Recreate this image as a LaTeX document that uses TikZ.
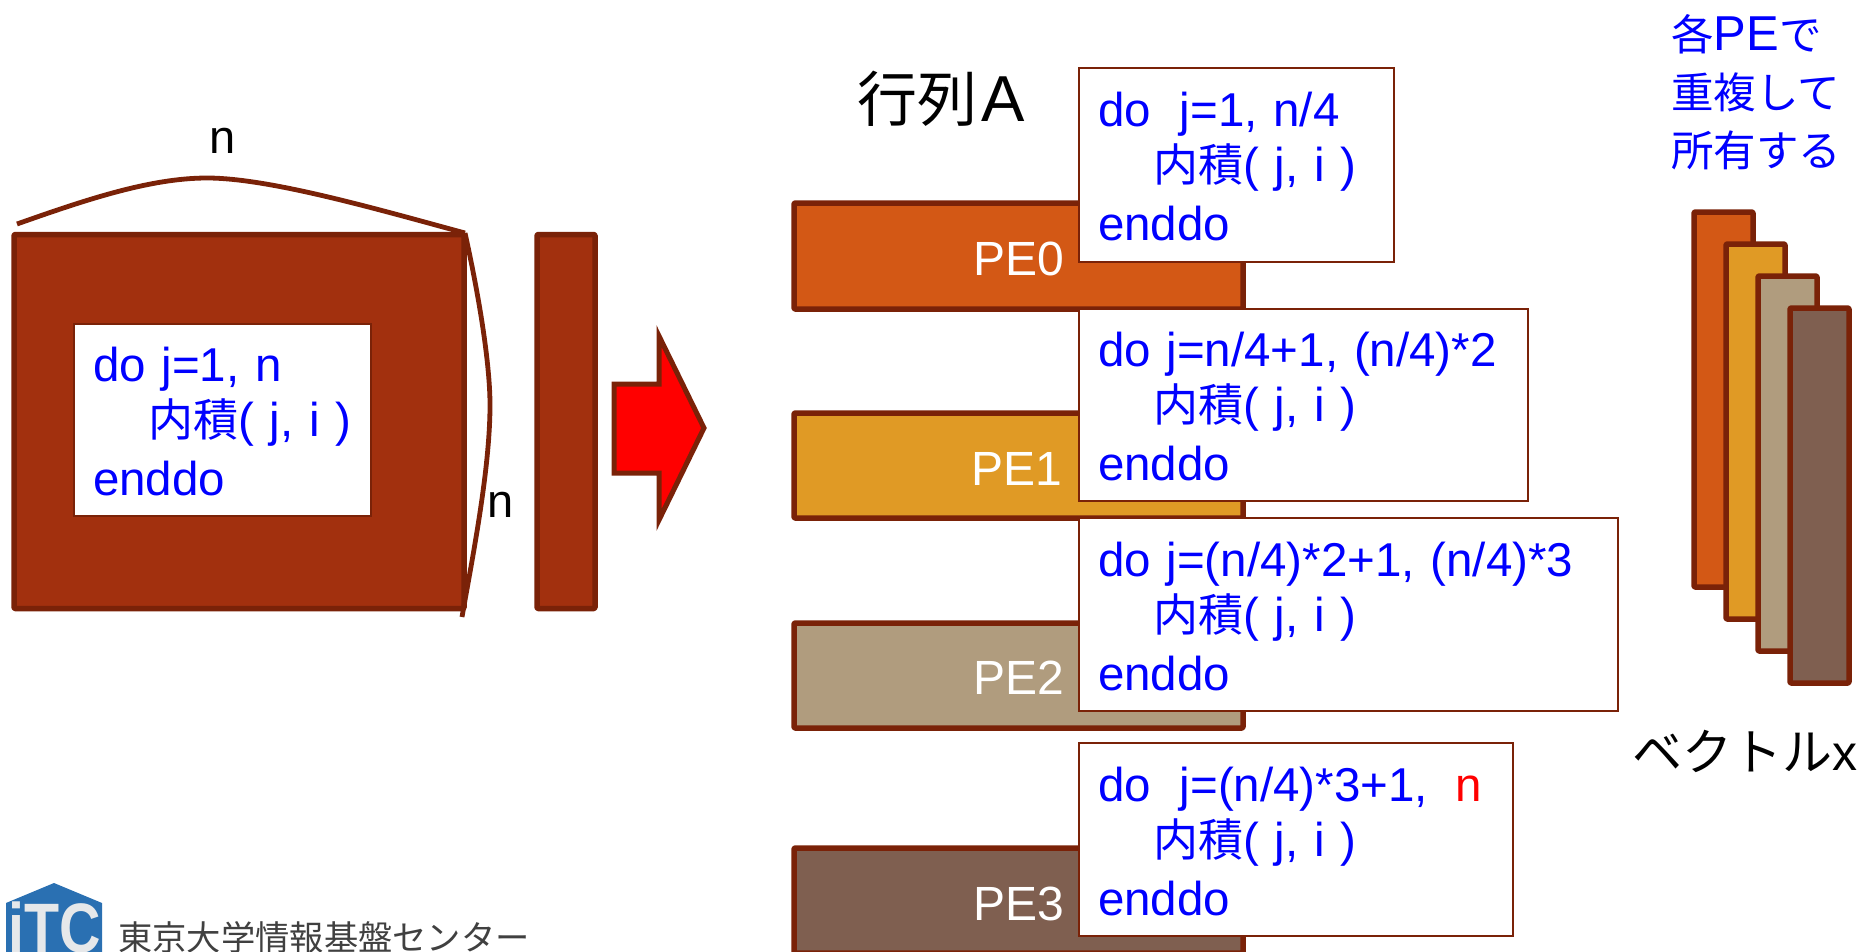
\documentclass[tikz,border=0pt]{standalone}
\usepackage{fontspec}
\setmainfont{Liberation Sans}
\newfontfamily\cjk{Noto Sans CJK JP}
\newcommand{\jp}[1]{{\cjk #1}}
\definecolor{edge}{HTML}{7A2208}
\definecolor{bigfill}{HTML}{A2300E}
\definecolor{pea}{HTML}{D35815}
\definecolor{peb}{HTML}{E09A25}
\definecolor{pec}{HTML}{B09C7E}
\definecolor{ped}{HTML}{7F5F50}
\definecolor{codeblue}{HTML}{0000FF}
\definecolor{logoblue}{HTML}{2A70B2}
\definecolor{logotext}{HTML}{E6E8EA}
\newcommand{\fs}[1]{\fontsize{#1}{#1}\selectfont}
\newcommand{\tstrut}{\rule{0pt}{38pt}}
\newcommand{\inner}{\hspace*{55pt}\raisebox{2pt}{{\cjk\fontsize{45}{57}\selectfont 内積}( j, i )}}
\tikzset{
  bar/.style={draw=edge,line width=5.5pt,line join=round,rounded corners=1pt,anchor=north west,inner sep=0pt,outer sep=0pt},
  codebox/.style={draw=edge,line width=1.4pt,fill=white,anchor=north west,inner sep=0pt,outer sep=0pt,align=left,text=codeblue,inner xsep=19pt,font=\fontsize{47.5}{57}\selectfont},
  pelabel/.style={text=white,font=\fs{48},inner sep=0pt},
  curve/.style={draw=edge,line width=4.8pt},
  blacklabel/.style={text=black,inner sep=0pt},
}
\begin{document}
\begin{tikzpicture}[x=1pt,y=-1pt]
\useasboundingbox (0,0) rectangle (1868,951);
\clip (0,0) rectangle (1868,951);

% left matrix
\node[bar,fill=bigfill,minimum width=450pt,minimum height=374pt] (matrix) at (14,234.5) {};
\node[bar,fill=bigfill,minimum width=58pt,minimum height=374pt] (column) at (537,234.5) {};
\node[codebox,text width=259pt,minimum height=192pt] (codeall) at (74,324) {\tstrut do j=1, n\\\mbox{\inner}\\enddo};
\coordinate (ca) at (17,224);
\coordinate (cb) at (465,233);
\coordinate (cc) at (462,617);
\draw[curve] (ca) .. controls (85,200) and (150,178) .. (207,178) .. controls (270,178) and (380,210) .. (cb);
\draw[curve] (cb) .. controls (482,310) and (490,370) .. (490,405) .. controls (490,470) and (472,560) .. (cc);
\node[blacklabel,font=\fs{47}] (ntop) at (223,141) {n};
\node[blacklabel,font=\fs{47}] (nright) at (501,505) {n};

% arrow
\draw[draw=edge,fill=red,line width=5pt,line join=miter] (614,384) -- (659,384) -- (659,336) -- (704,428) -- (659,520) -- (659,473) -- (614,473) -- cycle;

% PE bars
\node[bar,fill=pea,minimum width=449pt,minimum height=106pt] (pe0) at (794,203) {};
\node[bar,fill=peb,minimum width=449pt,minimum height=105pt] (pe1) at (794,413) {};
\node[bar,fill=pec,minimum width=449pt,minimum height=105pt] (pe2) at (794,623) {};
\node[bar,fill=ped,minimum width=449pt,minimum height=105pt] (pe3) at (794,848) {};
\node[pelabel] (l0) at (1019,259) {PE0};
\node[pelabel] (l1) at (1017,469) {PE1};
\node[pelabel] (l2) at (1019,678) {PE2};
\node[pelabel] (l3) at (1019,904) {PE3};

% code boxes
\node[codebox,text width=277pt,minimum height=194pt] (code0) at (1079,68) {\tstrut do\hspace{29pt}j=1, n/4\\\mbox{\inner}\\enddo};
\node[codebox,text width=411pt,minimum height=192pt] (code1) at (1079,309) {\tstrut do j=n/4+1, (n/4)*2\\\mbox{\inner}\\enddo};
\node[codebox,text width=501pt,minimum height=193pt] (code2) at (1079,518) {\tstrut do j=(n/4)*2+1, (n/4)*3\\\mbox{\inner}\\enddo};
\node[codebox,text width=396pt,minimum height=193pt] (code3) at (1079,743) {\tstrut do\hspace{29pt}j=(n/4)*3+1,\hspace{27pt}\textcolor{red}{n}\\\mbox{\inner}\\enddo};

% title
\node[blacklabel,anchor=base west,font=\fs{60}] (title) at (857,121) {\jp{行列}\hspace{4pt}{\fs{65}A}};

% vector
\node[bar,fill=pea,minimum width=59pt,minimum height=375pt] (v0) at (1694,212) {};
\node[bar,fill=peb,minimum width=59pt,minimum height=375pt] (v1) at (1726,244) {};
\node[bar,fill=pec,minimum width=59pt,minimum height=375pt] (v2) at (1758,276) {};
\node[bar,fill=ped,minimum width=59pt,minimum height=375pt] (v3) at (1790,308) {};
\node[blacklabel,anchor=base west,font=\fs{50}] (vecx) at (1632,770) {\jp{ベクトル}x};

% note
\node[anchor=base west,inner sep=0pt,text=codeblue,font=\fs{42.5}] (n1) at (1671,50) {\jp{各}{\fs{49}PE}\jp{で}};
\node[anchor=base west,inner sep=0pt,text=codeblue,font=\fs{42.5}] (n2) at (1671,108) {\jp{重複して}};
\node[anchor=base west,inner sep=0pt,text=codeblue,font=\fs{42.5}] (n3) at (1671,166) {\jp{所有する}};

% logo
\fill[logoblue] (6,903) -- (54,883) -- (102,903) -- (102,960) -- (6,960) -- cycle;
\node[anchor=base west,inner sep=0pt,text=logotext,font=\bfseries\fs{70}] (itc) at (8,952) {\scalebox{.82}[1]{iTC}};
\node[anchor=base west,inner sep=0pt,text=black!75,font=\fs{34.3}] (org) at (118,950) {\jp{東京大学情報基盤センター}};
\end{tikzpicture}
\end{document}
